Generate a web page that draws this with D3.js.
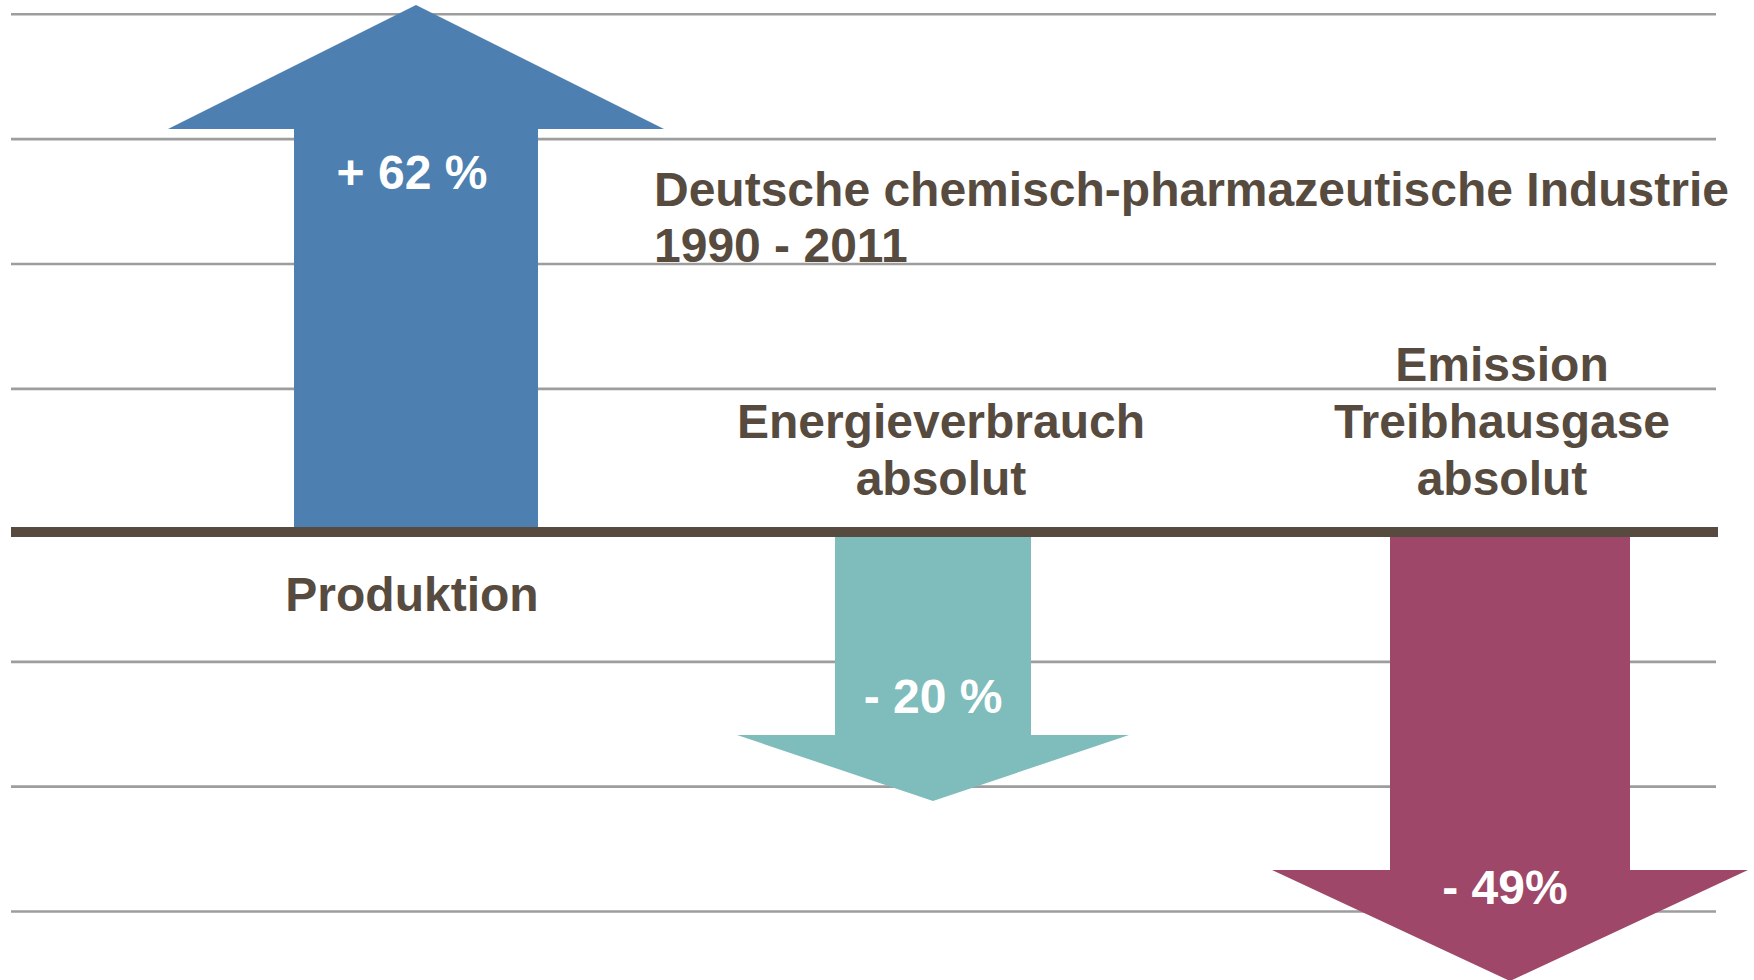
<!DOCTYPE html>
<html lang="de">
<head>
    <meta charset="UTF-8">
    <title>Chemie 1990 - 2011</title>
    <script src="https://d3js.org/d3.v7.min.js"></script>
    <style>
        body{
            margin: 0;
            background: #ffffff;
        }
        svg text{
            font-family: "Liberation Sans", Arial, sans-serif;
            font-weight: bold;
            font-size: 48px;
        }
    </style>
</head>
<body>

<svg width="1754" height="980" id="chart"></svg>

<script>
    // data
    let categories = ["Produktion", "Energieverbrauch absolut", "Emission Treibhausgase absolut"]
    let categoryLines = [["Produktion"], ["Energieverbrauch", "absolut"], ["Emission", "Treibhausgase", "absolut"]]
    let values = [62, -20, -49]
    let valueLabels = ["+ 62 %", "- 20 %", "- 49%"]
    let titleLines = ["Deutsche chemisch-pharmazeutische Industrie", "1990 - 2011"]
    let gridLevels = [4, 3, 2, 1, -1, -2, -3]

    // styles
    let colors = ["#4d7fb1", "#7fbcbc", "#9e4768"]
    let textColor = "#574b3f"

    // layout of the arrows (sizes in px)
    let shapes = [
        {shaft: 244, head: 496, headLen: 124, labelY: 189, labelDx: -4, nameDx: -4},
        {shaft: 196, head: 392, headLen: 66, labelY: 713, labelDx: 0, nameDx: 8},
        {shaft: 240, head: 476, headLen: 111, labelY: 904, labelDx: -5, nameDx: -8}
    ]

    let svg = d3.select("#chart")

    // scales
    let x = d3.scaleOrdinal().domain(categories).range([416, 933, 1510])
    // arrows are not drawn to scale in the original, so the scale is polylinear
    let y = d3.scaleLinear().domain([-49, -20, 0, 62]).range([981, 801, 532, 5])
    let gridUp = d3.scaleLinear().domain([0, 4]).range([513.8, 14.2])
    let gridDown = d3.scaleLinear().domain([0, -3]).range([537, 911.5])

    function gridY(k){
        return k > 0 ? gridUp(k) : gridDown(k)
    }

    // gridlines
    svg.append("g")
        .selectAll("line")
        .data(gridLevels)
        .enter()
        .append("line")
        .attr("x1", 11)
        .attr("x2", 1716)
        .attr("y1", d => gridY(d))
        .attr("y2", d => gridY(d))
        .attr("stroke", "#9d9d9d")
        .attr("stroke-width", 2.6)

    // arrows
    let base = y(0)
    svg.append("g")
        .selectAll("path")
        .data(values)
        .enter()
        .append("path")
        .attr("fill", (d, i) => colors[i])
        .attr("d", function (d, i) {
            let s = shapes[i]
            let cx = x(categories[i])
            let dir = d > 0 ? -1 : 1
            let start = base + dir * 5
            let tip = y(d)
            let neck = tip - dir * s.headLen
            let p = d3.path()
            p.moveTo(cx - s.shaft / 2, start)
            p.lineTo(cx - s.shaft / 2, neck)
            p.lineTo(cx - s.head / 2, neck)
            p.lineTo(cx, tip)
            p.lineTo(cx + s.head / 2, neck)
            p.lineTo(cx + s.shaft / 2, neck)
            p.lineTo(cx + s.shaft / 2, start)
            p.closePath()
            return p.toString()
        })

    // zero line
    svg.append("line")
        .attr("x1", 11)
        .attr("x2", 1718)
        .attr("y1", base)
        .attr("y2", base)
        .attr("stroke", "#574b3f")
        .attr("stroke-width", 10)

    // value labels
    svg.append("g")
        .selectAll("text")
        .data(valueLabels)
        .enter()
        .append("text")
        .attr("x", (d, i) => x(categories[i]) + shapes[i].labelDx)
        .attr("y", (d, i) => shapes[i].labelY)
        .attr("text-anchor", "middle")
        .attr("fill", "#ffffff")
        .text(d => d)

    // category labels
    let lineHeight = 57
    svg.append("g")
        .selectAll("text")
        .data(categoryLines)
        .enter()
        .append("text")
        .attr("text-anchor", "middle")
        .attr("fill", textColor)
        .each(function (lines, i) {
            let cx = x(categories[i]) + shapes[i].nameDx
            // positive arrows get their name below the zero line, negative ones above
            let firstY = values[i] > 0 ? base + 79 : base - 37 - (lines.length - 1) * lineHeight
            d3.select(this).selectAll("tspan")
                .data(lines)
                .enter()
                .append("tspan")
                .attr("x", cx)
                .attr("y", (l, j) => firstY + j * lineHeight)
                .text(l => l)
        })

    // title
    svg.append("text")
        .attr("fill", textColor)
        .selectAll("tspan")
        .data(titleLines)
        .enter()
        .append("tspan")
        .attr("x", 654)
        .attr("y", (d, i) => 206 + i * 56)
        .text(d => d)
</script>

</body>
</html>
